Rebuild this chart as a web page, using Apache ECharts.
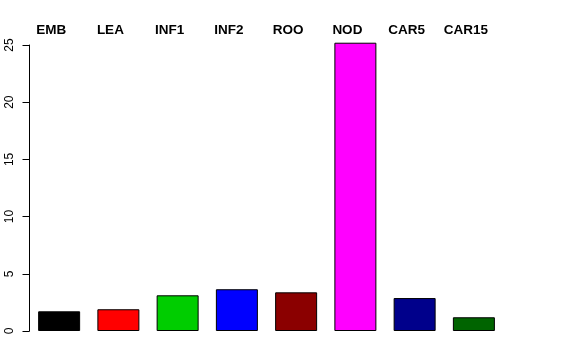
<!DOCTYPE html>
<html>
<head>
<meta charset="utf-8">
<script src="https://cdn.jsdelivr.net/npm/echarts@6/dist/echarts.min.js"></script>
<style>html,body{margin:0;padding:0;background:#fff}#c{width:576px;height:360px}</style>
</head>
<body>
<div id="c"></div>
<script>
var categories = ['EMB', 'LEA', 'INF1', 'INF2', 'ROO', 'NOD', 'CAR5', 'CAR15'];
var values = [1.72, 1.9, 3.12, 3.65, 3.38, 25.2, 2.88, 1.2];
var barColors = ['#000000', '#FF0000', '#00CD00', '#0000FF', '#8B0000', '#FF00FF', '#00008B', '#006400'];
var yTicks = [0, 5, 10, 15, 20, 25];

var chart = echarts.init(document.getElementById('c'), null, {renderer: 'canvas'});
chart.setOption({
  animation: false,
  backgroundColor: '#ffffff',
  grid: {left: 29.5, right: 72.5, top: 45, bottom: 29, containLabel: false},
  xAxis: {
    type: 'category',
    data: categories,
    position: 'top',
    axisLine: {show: false},
    axisTick: {show: false},
    axisLabel: {
      margin: 8,
      fontFamily: 'Liberation Sans, Arial, sans-serif',
      fontWeight: 'bold',
      fontSize: 13.5,
      color: '#000',
      padding: [0, 16, 0, 0]
    },
    splitLine: {show: false}
  },
  yAxis: {
    type: 'value',
    min: yTicks[0],
    max: yTicks[yTicks.length - 1],
    interval: 5,
    axisLine: {show: true, lineStyle: {color: '#000', width: 1}},
    axisTick: {show: true, length: 7, lineStyle: {color: '#000', width: 1}},
    axisLabel: {
      rotate: 90,
      margin: 14,
      fontFamily: 'Liberation Sans, Arial, sans-serif',
      fontSize: 12,
      color: '#000'
    },
    splitLine: {show: false}
  },
  series: [{
    type: 'bar',
    clip: false,
    barWidth: 42,
    data: values.map(function (v, i) {
      return {value: v, itemStyle: {color: barColors[i]}};
    }),
    itemStyle: {borderColor: '#000', borderWidth: 1}
  }]
});
</script>
</body>
</html>
